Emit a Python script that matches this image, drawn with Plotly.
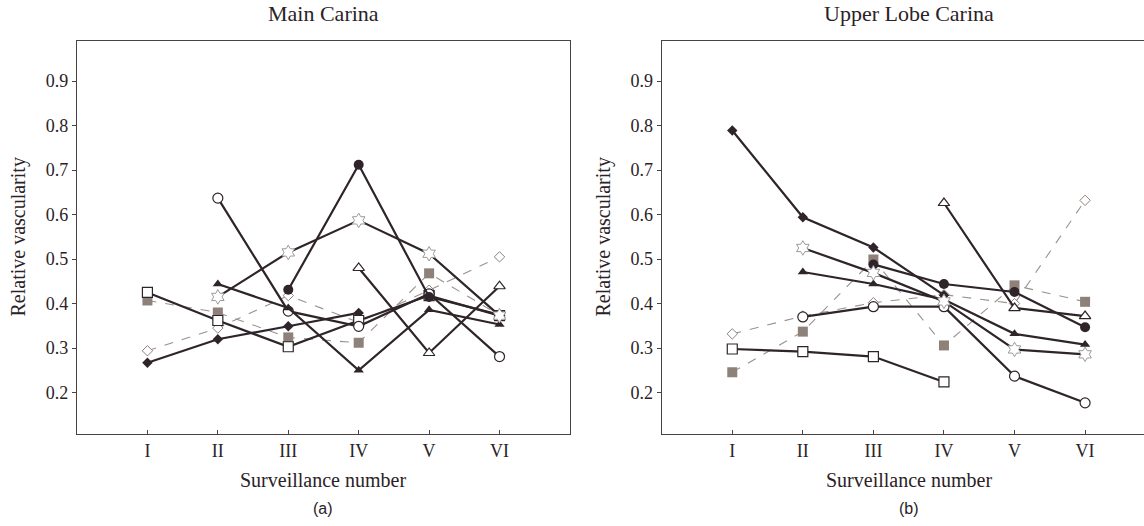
import plotly.graph_objects as go

categories = ["I", "II", "III", "IV", "V", "VI"]

# Panel (a) Main Carina
a_filled_diamond = [0.267, 0.320, 0.349, 0.379, None, None]
a_open_diamond   = [0.294, 0.345, 0.418, 0.358, 0.430, 0.505]
a_grey_square    = [0.407, 0.380, 0.324, 0.312, 0.468, 0.374]
a_open_square    = [0.425, 0.362, 0.303, 0.362, 0.418, 0.373]
a_open_circle    = [None, 0.637, 0.383, 0.349, 0.422, 0.281]
a_filled_circle  = [None, None, 0.431, 0.712, 0.415, 0.375]
a_star           = [None, 0.415, 0.515, 0.587, 0.512, 0.373]
a_filled_tri     = [None, 0.444, 0.390, 0.250, 0.386, 0.353]
a_open_tri       = [None, None, None, 0.480, 0.289, 0.439]

# Panel (b) Upper Lobe Carina
b_filled_diamond = [0.789, 0.594, 0.526, 0.419, None, None]
b_open_diamond   = [0.332, 0.372, 0.402, 0.420, 0.400, 0.632]
b_grey_square    = [0.246, 0.337, 0.499, 0.306, 0.441, 0.404]
b_open_square    = [0.298, 0.292, 0.281, 0.224, None, None]
b_open_circle    = [None, 0.370, 0.393, 0.393, 0.237, 0.177]
b_filled_circle  = [None, None, 0.488, 0.444, 0.426, 0.347]
b_star           = [None, 0.525, 0.469, 0.405, 0.297, 0.286]
b_filled_tri     = [None, 0.471, 0.444, 0.409, 0.332, 0.308]
b_open_tri       = [None, None, None, 0.626, 0.390, 0.372]

yticks = [0.2, 0.3, 0.4, 0.5, 0.6, 0.7, 0.8, 0.9]

DARK = "#2e2429"
GREY = "#8e817a"
DASH = "#9c918b"

styles = {
    "grey_square":    dict(line=dict(color=DASH, width=1.1, dash="dash"),
                           marker=dict(symbol="square", size=10, color=GREY, line=dict(color=GREY, width=0))),
    "open_diamond":   dict(line=dict(color=DASH, width=1.1, dash="dash"),
                           marker=dict(symbol="diamond", size=8, color="white", line=dict(color=GREY, width=1))),
    "filled_diamond": dict(line=dict(color=DARK, width=2.2),
                           marker=dict(symbol="diamond", size=8, color=DARK, line=dict(color=DARK, width=0))),
    "open_square":    dict(line=dict(color=DARK, width=2.2),
                           marker=dict(symbol="square", size=10, color="white", line=dict(color=DARK, width=1.2))),
    "open_circle":    dict(line=dict(color=DARK, width=2.2),
                           marker=dict(symbol="circle", size=10, color="white", line=dict(color=DARK, width=1.2))),
    "filled_circle":  dict(line=dict(color=DARK, width=2.2),
                           marker=dict(symbol="circle", size=10, color=DARK, line=dict(color=DARK, width=0))),
    "star":           dict(line=dict(color=DARK, width=2.2),
                           marker=dict(symbol="hexagram", size=11, color="white", line=dict(color="#9a9a9a", width=1))),
    "filled_tri":     dict(line=dict(color=DARK, width=2.2),
                           marker=dict(symbol="triangle-up", size=9, color=DARK, line=dict(color=DARK, width=0))),
    "open_tri":       dict(line=dict(color=DARK, width=2.2),
                           marker=dict(symbol="triangle-up", size=10, color="white", line=dict(color=DARK, width=1.2))),
}

panel_a = [("grey_square", a_grey_square), ("open_diamond", a_open_diamond),
           ("filled_diamond", a_filled_diamond), ("open_square", a_open_square),
           ("open_circle", a_open_circle), ("filled_tri", a_filled_tri),
           ("open_tri", a_open_tri), ("filled_circle", a_filled_circle), ("star", a_star)]
panel_b = [("grey_square", b_grey_square), ("open_diamond", b_open_diamond),
           ("open_square", b_open_square), ("open_circle", b_open_circle),
           ("filled_diamond", b_filled_diamond), ("filled_tri", b_filled_tri),
           ("open_tri", b_open_tri), ("filled_circle", b_filled_circle), ("star", b_star)]

fig = go.Figure()
for key, vals in panel_a:
    fig.add_trace(go.Scatter(x=categories, y=vals, mode="lines+markers", xaxis="x", yaxis="y",
                             showlegend=False, connectgaps=False, **styles[key]))
for key, vals in panel_b:
    fig.add_trace(go.Scatter(x=categories, y=vals, mode="lines+markers", xaxis="x2", yaxis="y2",
                             showlegend=False, connectgaps=False, **styles[key]))

SERIF = "Liberation Serif"
FRAME = "#4a4247"
tickfont = dict(family=SERIF, size=18, color="#2a2226")

common_x = dict(type="category", categoryorder="array", categoryarray=categories,
                showgrid=False, zeroline=False, showline=True, linecolor=FRAME, linewidth=1.3,
                mirror=True, ticks="inside", ticklen=4, tickcolor=FRAME, tickfont=tickfont)
common_y = dict(range=[0.107, 0.99], tickvals=yticks, ticktext=[f"{v:.1f}" for v in yticks],
                showgrid=False, zeroline=False, showline=True, linecolor=FRAME, linewidth=1.3,
                ticks="outside", ticklen=4, tickcolor=FRAME, tickfont=tickfont)

fig.update_layout(
    width=1144, height=526,
    margin=dict(l=77, r=0, t=41, b=92),
    paper_bgcolor="white", plot_bgcolor="white",
    xaxis=dict(domain=[0, 0.462], range=[-1, 6], **common_x),
    yaxis=dict(domain=[0, 1], mirror=True, **common_y),
    xaxis2=dict(domain=[0.548, 1], range=[-1, 5.835], anchor="y2", **common_x),
    yaxis2=dict(domain=[0, 1], anchor="x2", mirror=False, **common_y),
)

ann = []
for xr, title, lab in [("x", "Main Carina", "(a)"), ("x2", "Upper Lobe Carina", "(b)")]:
    ann.append(dict(xref=xr, yref="paper", x=2.5, y=1.069, text=title, showarrow=False,
                    font=dict(family=SERIF, size=22, color="#2a2226"), xanchor="center", yanchor="middle"))
    ann.append(dict(xref=xr, yref="paper", x=2.5, y=-0.118, text="Surveillance number", showarrow=False,
                    font=dict(family=SERIF, size=20, color="#2a2226"), xanchor="center", yanchor="middle"))
    ann.append(dict(xref=xr, yref="paper", x=2.5, y=-0.19, text=lab, showarrow=False,
                    font=dict(family="Liberation Sans", size=16, color="#2a2226"),
                    xanchor="center", yanchor="middle"))
for px in [18, 603]:
    ann.append(dict(xref="paper", yref="paper", x=(px - 77) / 1067, y=0.5, text="Relative vascularity",
                    showarrow=False, textangle=-90, font=dict(family=SERIF, size=20, color="#2a2226"),
                    xanchor="center", yanchor="middle"))
fig.update_layout(annotations=ann)

fig.write_html("out.html", config={"displayModeBar": False},
               post_script="document.body.style.margin='0';")
